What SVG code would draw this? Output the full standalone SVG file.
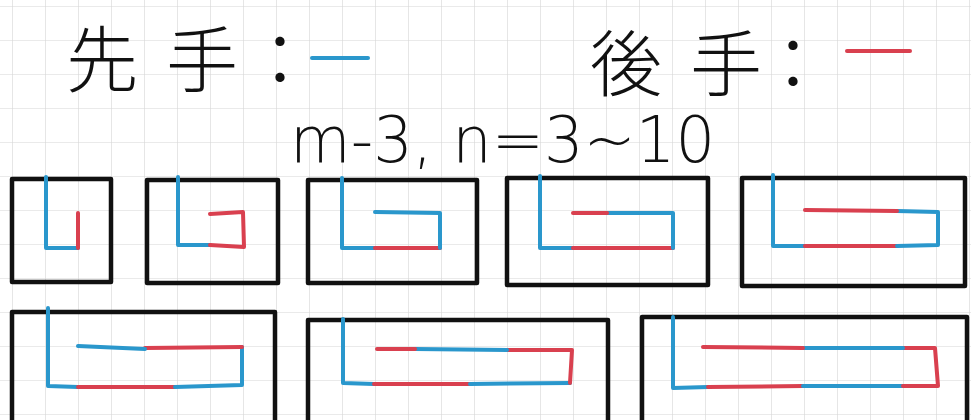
<svg xmlns="http://www.w3.org/2000/svg" width="971" height="420" viewBox="0 0 971 420">
<defs>
<pattern id="grid" x="12" y="6" width="33" height="34" patternUnits="userSpaceOnUse">
<path d="M0 0V34M0 0H33" fill="none" stroke="#d6d6d6" stroke-width="1.2"/>
</pattern>
<style>
.box{fill:none;stroke:#111;stroke-width:4.5;stroke-linejoin:round}
.b{fill:none;stroke:#2a97cc;stroke-width:4;stroke-linecap:round;stroke-linejoin:round}
.r{fill:none;stroke:#d9404f;stroke-width:4;stroke-linecap:round;stroke-linejoin:round}
.cjk{font-family:"Noto Sans CJK JP","Noto Sans CJK TC",sans-serif;font-size:72px;fill:#111;font-weight:300}
.eq{font-family:"DejaVu Sans","Liberation Sans",sans-serif;font-size:64px;fill:#111;font-weight:200}
</style>
</defs>
<rect width="971" height="420" fill="#fff"/>
<rect width="971" height="420" fill="url(#grid)"/>
<g id="title">
<text class="cjk" x="66 166 244" y="86">先手：</text>
<line x1="312" y1="58" x2="368" y2="58" class="b"/>
<text class="cjk" x="590 690 757" y="90">後手：</text>
<line x1="847" y1="51" x2="910" y2="51" class="r"/>
<text class="eq" x="290" y="162" textLength="425" lengthAdjust="spacingAndGlyphs">m-3, n=3~10</text>
</g>
<g id="case1"><rect class="box" x="12" y="179" width="99" height="103"/>
<polyline class="b" points="46,177 46,248 78,248"/><polyline class="r" points="78,248 78,213"/></g>
<g id="case2"><rect class="box" x="147" y="180" width="131" height="103"/>
<polyline class="b" points="178,177 178,245 210,245"/><polyline class="r" points="210,245 244,247 243,212 210,214"/></g>
<g id="case3"><rect class="box" x="308" y="180" width="169" height="103"/>
<polyline class="b" points="342,178 342,248 375,248"/><polyline class="r" points="375,248 440,248"/><polyline class="b" points="440,248 440,213 375,212"/></g>
<g id="case4"><rect class="box" x="507" y="178" width="201" height="107"/>
<polyline class="b" points="540,176 540,248 573,248"/><polyline class="r" points="573,248 673,248"/><polyline class="b" points="673,248 673,213 607,213"/><polyline class="r" points="607,213 573,213"/></g>
<g id="case5"><rect class="box" x="742" y="178" width="223" height="108"/>
<polyline class="b" points="773,175 773,246 805,246"/><polyline class="r" points="805,246 897,246"/><polyline class="b" points="897,246 938,245 938,212 897,211"/><polyline class="r" points="897,211 805,210"/></g>
<g id="case6"><rect class="box" x="12" y="312" width="263" height="112"/>
<polyline class="b" points="48,308 48,386 78,387"/><polyline class="r" points="78,387 175,387"/><polyline class="b" points="175,387 242,385 242,347"/><polyline class="r" points="242,347 145,348"/><polyline class="b" points="145,349 78,346"/></g>
<g id="case7"><rect class="box" x="308" y="320" width="300" height="104"/>
<polyline class="b" points="343,319 343,383 374,384"/><polyline class="r" points="374,384 470,384"/><polyline class="b" points="470,384 570,383"/><polyline class="r" points="570,383 572,350 507,350"/><polyline class="b" points="507,350 415,349"/><polyline class="r" points="415,349 377,349"/></g>
<g id="case8"><rect class="box" x="642" y="317" width="325" height="107"/>
<polyline class="b" points="673,317 673,388 708,387"/><polyline class="r" points="708,387 803,386"/><polyline class="b" points="803,386 903,386"/><polyline class="r" points="903,386 938,386 935,348 903,348"/><polyline class="b" points="903,348 803,348"/><polyline class="r" points="803,348 703,347"/></g>
</svg>
